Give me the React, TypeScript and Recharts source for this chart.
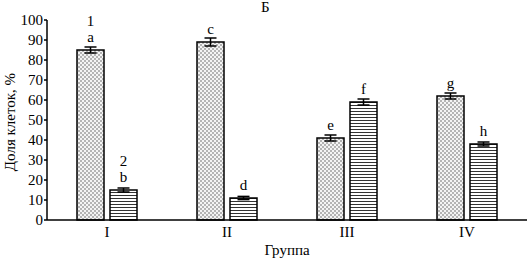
import {
  Bar,
  BarChart,
  ErrorBar,
  LabelList,
  XAxis,
  YAxis,
} from "recharts";

const groups = ["I", "II", "III", "IV"];
const series1 = [85, 89, 41, 62];
const series2 = [15, 11, 59, 38];
const err1 = [1.5, 2, 1.5, 1.5];
const err2 = [1, 0.8, 1.5, 1];
const letters1 = ["a", "c", "e", "g"];
const letters2 = ["b", "d", "f", "h"];
const seriesNames1 = ["1", "", "", ""];
const seriesNames2 = ["2", "", "", ""];
const yTicks = [0, 10, 20, 30, 40, 50, 60, 70, 80, 90, 100];
const boundaryTicks = [0, 1, 2, 3, 4];

const data = groups.map((g, i) => ({
  group: g,
  v1: series1[i],
  v2: series2[i],
  e1: err1[i],
  e2: err2[i],
}));

const FONT = "Liberation Serif";

function makeLabel(letters: string[], names: string[]) {
  return (props: any) => {
    const { x, y, width, index } = props;
    const cx = x + width / 2;
    return (
      <g>
        <text
          x={cx}
          y={y - 8}
          textAnchor="middle"
          style={{ fontFamily: FONT, fontSize: 15 }}
          fill="#000"
        >
          {letters[index]}
        </text>
        {names[index] && (
          <text
            x={cx}
            y={y - 24}
            textAnchor="middle"
            style={{ fontFamily: FONT, fontSize: 15 }}
            fill="#000"
          >
            {names[index]}
          </text>
        )}
      </g>
    );
  };
}

export default function App() {
  return (
    <div
      style={{
        position: "absolute",
        left: 0,
        top: 0,
        width: 532,
        height: 262,
        background: "#fff",
        fontFamily: FONT,
      }}
    >
      <BarChart
        width={532}
        height={262}
        data={data}
        margin={{ top: 20, right: 5, bottom: 0, left: 7 }}
        barSize={27}
        barGap={6}
        style={{ fontFamily: FONT }}
      >
        <defs>
          <pattern id="dots" width="4" height="4" patternUnits="userSpaceOnUse">
            <rect width="4" height="4" fill="#f4f4f4" />
            <rect width="2" height="2" fill="#b4b4b4" />
            <rect x="2" y="2" width="2" height="2" fill="#b4b4b4" />
          </pattern>
          <pattern id="stripes" width="4" height="3" patternUnits="userSpaceOnUse">
            <rect width="4" height="3" fill="#fff" />
            <rect width="4" height="1" fill="#333" />
          </pattern>
        </defs>
        <XAxis
          xAxisId="grid"
          type="number"
          domain={[0, 4]}
          ticks={boundaryTicks}
          tickFormatter={() => ""}
          axisLine={false}
          tickLine={{ stroke: "#000", strokeWidth: 1.5 }}
          tickSize={3}
          height={0}
          allowDataOverflow
        />
        <XAxis
          xAxisId="cat"
          dataKey="group"
          axisLine={{ stroke: "#000", strokeWidth: 1.5 }}
          tickLine={false}
          tick={{ fill: "#000", fontFamily: FONT, fontSize: 15 }}
          tickMargin={0}
          height={42}
          label={{
            value: "Группа",
            position: "insideBottom",
            offset: 7,
            fill: "#000",
            fontFamily: FONT,
            fontSize: 15,
          }}
        />
        <YAxis
          domain={[0, 100]}
          ticks={yTicks}
          width={40}
          axisLine={{ stroke: "#000", strokeWidth: 1.5 }}
          tickLine={{ stroke: "#000", strokeWidth: 1.5 }}
          tickSize={3}
          tickMargin={1}
          tick={{ fill: "#000", fontFamily: FONT, fontSize: 15 }}
          interval={0}
        />
        <Bar
          xAxisId="cat"
          dataKey="v1"
          fill="url(#dots)"
          stroke="#000"
          strokeWidth={1.5}
          isAnimationActive={false}
        >
          <ErrorBar dataKey="e1" width={6} stroke="#000" strokeWidth={1.5} />
          <LabelList dataKey="v1" content={makeLabel(letters1, seriesNames1)} />
        </Bar>
        <Bar
          xAxisId="cat"
          dataKey="v2"
          fill="url(#stripes)"
          stroke="#000"
          strokeWidth={1.5}
          isAnimationActive={false}
        >
          <ErrorBar dataKey="e2" width={6} stroke="#000" strokeWidth={1.5} />
          <LabelList dataKey="v2" content={makeLabel(letters2, seriesNames2)} />
        </Bar>
      </BarChart>
      <div
        style={{
          position: "absolute",
          left: 261,
          top: 0,
          fontSize: 15,
          lineHeight: "15px",
          color: "#000",
        }}
      >
        Б
      </div>
      <div
        style={{
          position: "absolute",
          left: 10,
          top: 122,
          transform: "translate(-50%, -50%) rotate(-90deg)",
          whiteSpace: "nowrap",
          fontSize: 15,
          color: "#000",
        }}
      >
        Доля клеток, %
      </div>
    </div>
  );
}
